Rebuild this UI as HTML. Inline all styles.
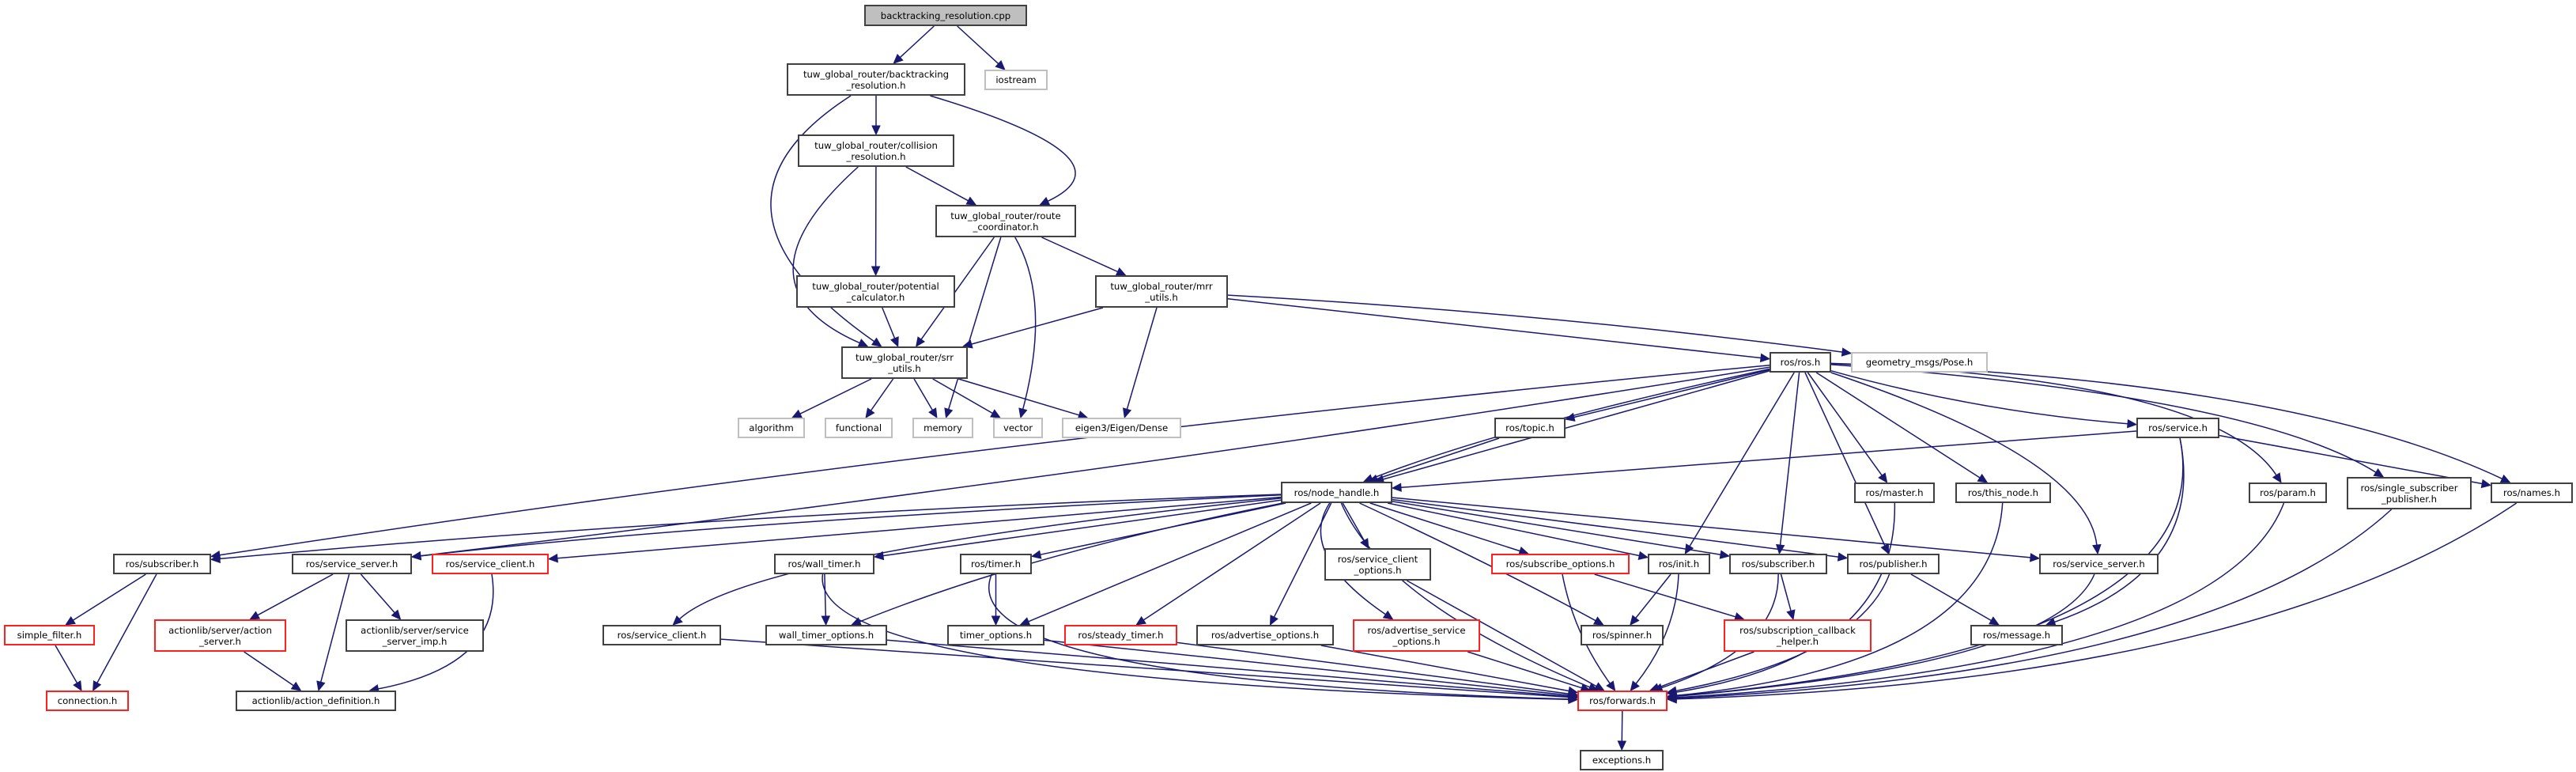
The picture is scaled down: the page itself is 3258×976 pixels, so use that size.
<!DOCTYPE html>
<html><head><meta charset="utf-8">
<style>
html,body{margin:0;padding:0;background:#fff;}
#c{position:relative;width:3258px;height:976px;overflow:hidden;background:#fff;}
.n{position:absolute;box-sizing:border-box;border:2px solid #404040;background:#fff;display:flex;align-items:center;justify-content:center;text-align:center;font-family:"DejaVu Sans","Liberation Sans",sans-serif;font-size:11.7px;line-height:14px;color:#000;white-space:nowrap;}
.r{border-color:#ff2020;}
.g{border-color:#bfbfbf;}
.root{background:#bfbfbf;}
svg{position:absolute;left:0;top:0;}
</style></head><body>
<div id="c">
<svg id="s" width="3258" height="976"></svg>
<div class="n root" id="root" style="left:1093px;top:6px;width:206px;height:27px">backtracking_resolution.cpp</div>
<div class="n" id="bth" style="left:995px;top:80px;width:226px;height:41px">tuw_global_router/backtracking<br>_resolution.h</div>
<div class="n g" id="ios" style="left:1245px;top:88px;width:80px;height:26px">iostream</div>
<div class="n" id="col" style="left:1009px;top:170px;width:198px;height:41px">tuw_global_router/collision<br>_resolution.h</div>
<div class="n" id="rc" style="left:1183px;top:259px;width:178px;height:41px">tuw_global_router/route<br>_coordinator.h</div>
<div class="n" id="pot" style="left:1007px;top:348px;width:201px;height:41px">tuw_global_router/potential<br>_calculator.h</div>
<div class="n" id="mrr" style="left:1385px;top:348px;width:168px;height:41px">tuw_global_router/mrr<br>_utils.h</div>
<div class="n" id="srr" style="left:1064px;top:438px;width:160px;height:41px">tuw_global_router/srr<br>_utils.h</div>
<div class="n" id="ros" style="left:2238px;top:445px;width:78px;height:26px">ros/ros.h</div>
<div class="n g" id="pose" style="left:2341px;top:445px;width:173px;height:26px">geometry_msgs/Pose.h</div>
<div class="n g" id="alg" style="left:933px;top:528px;width:85px;height:26px">algorithm</div>
<div class="n g" id="fun" style="left:1043px;top:528px;width:86px;height:26px">functional</div>
<div class="n g" id="mem" style="left:1154px;top:528px;width:77px;height:26px">memory</div>
<div class="n g" id="vec" style="left:1256px;top:528px;width:63px;height:26px">vector</div>
<div class="n g" id="eig" style="left:1343px;top:528px;width:151px;height:26px">eigen3/Eigen/Dense</div>
<div class="n" id="top" style="left:1890px;top:528px;width:90px;height:26px">ros/topic.h</div>
<div class="n" id="svc" style="left:2702px;top:528px;width:105px;height:26px">ros/service.h</div>
<div class="n" id="nh" style="left:1620px;top:609px;width:141px;height:27px">ros/node_handle.h</div>
<div class="n" id="mas" style="left:2345px;top:610px;width:102px;height:26px">ros/master.h</div>
<div class="n" id="thn" style="left:2473px;top:610px;width:121px;height:26px">ros/this_node.h</div>
<div class="n" id="par" style="left:2844px;top:610px;width:99px;height:26px">ros/param.h</div>
<div class="n" id="ssp" style="left:2968px;top:603px;width:158px;height:41px">ros/single_subscriber<br>_publisher.h</div>
<div class="n" id="nam" style="left:3150px;top:610px;width:104px;height:26px">ros/names.h</div>
<div class="n" id="sub1" style="left:143px;top:700px;width:124px;height:26px">ros/subscriber.h</div>
<div class="n" id="ss1" style="left:369px;top:700px;width:152px;height:26px">ros/service_server.h</div>
<div class="n r" id="scr" style="left:546px;top:700px;width:148px;height:26px">ros/service_client.h</div>
<div class="n" id="wt" style="left:979px;top:700px;width:127px;height:26px">ros/wall_timer.h</div>
<div class="n" id="tim" style="left:1214px;top:700px;width:91px;height:26px">ros/timer.h</div>
<div class="n" id="sco" style="left:1675px;top:693px;width:135px;height:41px">ros/service_client<br>_options.h</div>
<div class="n r" id="sbo" style="left:1886px;top:700px;width:175px;height:26px">ros/subscribe_options.h</div>
<div class="n" id="ini" style="left:2084px;top:700px;width:79px;height:26px">ros/init.h</div>
<div class="n" id="sub2" style="left:2187px;top:700px;width:124px;height:26px">ros/subscriber.h</div>
<div class="n" id="pub" style="left:2336px;top:700px;width:117px;height:26px">ros/publisher.h</div>
<div class="n" id="ss2" style="left:2579px;top:700px;width:151px;height:26px">ros/service_server.h</div>
<div class="n r" id="sf" style="left:5px;top:790px;width:115px;height:26px">simple_filter.h</div>
<div class="n r" id="as" style="left:195px;top:783px;width:167px;height:41px">actionlib/server/action<br>_server.h</div>
<div class="n" id="ssi" style="left:437px;top:783px;width:175px;height:41px">actionlib/server/service<br>_server_imp.h</div>
<div class="n" id="sc2" style="left:762px;top:790px;width:150px;height:26px">ros/service_client.h</div>
<div class="n" id="wto" style="left:968px;top:790px;width:154px;height:26px">wall_timer_options.h</div>
<div class="n" id="to" style="left:1198px;top:790px;width:123px;height:26px">timer_options.h</div>
<div class="n r" id="st" style="left:1346px;top:790px;width:143px;height:26px">ros/steady_timer.h</div>
<div class="n" id="ao" style="left:1513px;top:790px;width:174px;height:26px">ros/advertise_options.h</div>
<div class="n r" id="aso" style="left:1711px;top:783px;width:161px;height:41px">ros/advertise_service<br>_options.h</div>
<div class="n" id="spn" style="left:1999px;top:790px;width:105px;height:26px">ros/spinner.h</div>
<div class="n r" id="sch" style="left:2180px;top:783px;width:187px;height:41px">ros/subscription_callback<br>_helper.h</div>
<div class="n" id="msg" style="left:2492px;top:790px;width:117px;height:26px">ros/message.h</div>
<div class="n r" id="con" style="left:58px;top:873px;width:105px;height:26px">connection.h</div>
<div class="n" id="ad" style="left:298px;top:873px;width:203px;height:26px">actionlib/action_definition.h</div>
<div class="n r" id="fwd" style="left:1995px;top:873px;width:114px;height:26px">ros/forwards.h</div>
<div class="n" id="exc" style="left:1998px;top:948px;width:106px;height:26px">exceptions.h</div>
</div>
<script>
var E=[["root","bth"],["root","ios"],["bth","col"],["bth","rc",[1440,200]],["bth","srr",[860,260]],["col","rc"],["col","pot"],["col","srr",[920,360]],
["rc","srr"],["rc","mem"],["rc","vec",[1330,380]],["rc","mrr"],["pot","srr"],["mrr","srr"],["mrr","eig"],["mrr","ros"],["mrr","pose",[1950,395]],
["srr","alg"],["srr","fun"],["srr","mem"],["srr","vec"],["srr","eig"],
["ros","nh"],["ros","nh",[1900,540]],["ros","top"],["ros","svc",[2500,520]],["ros","mas"],["ros","thn"],["ros","par",[2800,480]],["ros","ssp",[2850,500]],["ros","nam",[2900,480]],
["ros","ini"],["ros","sub2"],["ros","pub"],["ros","ss2",[2640,580]],["ros","sub1",[1200,560]],["ros","ss1",[1400,600]],
["top","nh"],["svc","nh"],["svc","nam"],["svc","msg",[2790,720]],["svc","fwd",[2810,820]],
["nh","sub1",[900,650]],["nh","ss1",[900,660]],["nh","scr"],["nh","wt"],["nh","tim"],["nh","sc2",[950,700]],["nh","wto",[1300,700]],["nh","to"],["nh","st"],["nh","ao"],["nh","aso",[1640,700]],["nh","sco"],["nh","sbo"],["nh","ini"],["nh","sub2"],["nh","pub"],["nh","ss2"],["nh","spn",[1900,720]],["nh","fwd",[1750,760]],
["sub1","sf"],["sub1","con"],["sf","con"],["ss1","as"],["ss1","ad"],["ss1","ssi"],["as","ad"],["scr","ad",[640,840]],
["wt","wto"],["wt","fwd",[1020,860]],["tim","to"],["tim","fwd",[1200,860]],["sc2","fwd"],["wto","fwd"],["to","fwd"],["st","fwd"],["ao","fwd"],["aso","fwd"],["sco","fwd"],
["sbo","sch"],["sbo","fwd",[1990,800]],["ini","spn"],["ini","fwd",[2120,800]],["sub2","sch"],["sub2","fwd",[2250,820]],["pub","msg"],["pub","fwd",[2350,830]],["ss2","fwd",[2600,840]],
["mas","fwd",[2400,830]],["thn","fwd",[2520,840]],["par","fwd",[2810,840]],["ssp","fwd",[2800,850]],["nam","fwd",[2850,860]],["sch","fwd"],["fwd","exc"]];
function R(id){var e=document.getElementById(id);var x=e.offsetLeft,y=e.offsetTop,w=e.offsetWidth,h=e.offsetHeight;return{x:x,y:y,w:w,h:h,cx:x+w/2,cy:y+h/2};}
function clip(r,tx,ty){var dx=tx-r.cx,dy=ty-r.cy;var sx=dx?(r.w/2)/Math.abs(dx):1e9,sy=dy?(r.h/2)/Math.abs(dy):1e9;var s=Math.min(sx,sy);return[r.cx+dx*s,r.cy+dy*s];}
var s="",C="#191970";
E.forEach(function(e){var a=R(e[0]),b=R(e[1]);
var qx=(a.cx+b.cx)/2,qy=(a.cy+b.cy)/2;
if(e[2]){qx=e[2][0];qy=e[2][1];}
var p=clip(a,qx,qy),q=clip(b,qx,qy);
if(!e[2]){qx=(p[0]+q[0])/2;qy=(p[1]+q[1])/2;}
var ux=q[0]-qx,uy=q[1]-qy,ul=Math.sqrt(ux*ux+uy*uy)||1;ux/=ul;uy/=ul;
var bx=q[0]-ux*11,by=q[1]-uy*11;
s+='<path d="M'+p[0].toFixed(1)+','+p[1].toFixed(1)+' Q'+qx.toFixed(1)+','+qy.toFixed(1)+' '+bx.toFixed(1)+','+by.toFixed(1)+'" fill="none" stroke="'+C+'" stroke-width="1.5"/>';
s+='<polygon points="'+q[0].toFixed(1)+','+q[1].toFixed(1)+' '+(bx-uy*5).toFixed(1)+','+(by+ux*5).toFixed(1)+' '+(bx+uy*5).toFixed(1)+','+(by-ux*5).toFixed(1)+'" fill="'+C+'" stroke="'+C+'"/>';});
document.getElementById("s").innerHTML=s;
</script>
</body></html>
